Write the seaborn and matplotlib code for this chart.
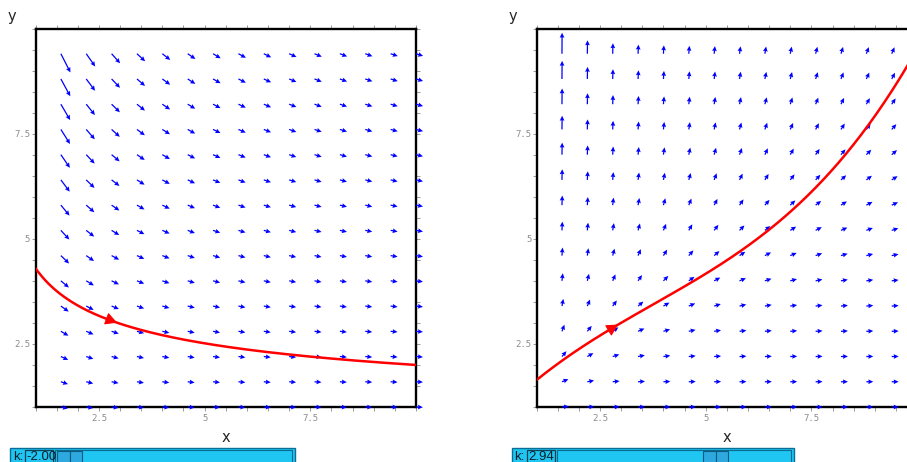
import numpy as np
import matplotlib
matplotlib.use("Agg")
import matplotlib.pyplot as plt
import seaborn as sns
from matplotlib.ticker import MultipleLocator, FixedLocator
from matplotlib.patches import Rectangle, FancyArrowPatch

# ---- slider parameter of the two direction fields ----
k_values = [-2.00, 2.94]
k_range = [-2.0, 5.0]

# slope model dy/dx = coef * y**y_pow / x**x_pow for each k
slope_coef = [-1.0 / 3.0, 0.25]
y_pow = [1.0, 3.4]
x_pow = [1.0, 2.4]

# arrow grid
x_grid = [1.6, 2.2, 2.8, 3.4, 4.0, 4.6, 5.2, 5.8, 6.4, 7.0, 7.6, 8.2, 8.8, 9.4, 10.0]
y_grid = [1.0, 1.6, 2.2, 2.8, 3.4, 4.0, 4.6, 5.2, 5.8, 6.4, 7.0, 7.6, 8.2, 8.8, 9.4]

# trajectories through the start point
traj_left_x = [1.0, 1.25, 1.5, 1.75, 2.0, 2.5, 3.0, 3.5, 4.0, 5.0, 6.0, 7.0, 8.0, 9.0, 10.0]
traj_left_y = [4.30, 3.99, 3.76, 3.57, 3.41, 3.17, 2.98, 2.83, 2.71, 2.51, 2.37, 2.25, 2.15, 2.07, 2.00]
traj_right_x = [1.0, 1.3, 1.6, 2.2, 2.9, 3.4, 4.0, 4.6, 5.2, 5.8, 6.4, 7.0, 7.5, 8.0, 8.5, 9.0, 9.4, 9.8, 10.0]
traj_right_y = [1.64, 1.88, 2.12, 2.51, 2.93, 3.20, 3.57, 3.92, 4.32, 4.69, 5.18, 5.67, 6.12, 6.58, 7.27, 7.91, 8.44, 9.18, 9.56]
traj_x = [traj_left_x, traj_right_x]
traj_y = [traj_left_y, traj_right_y]
traj_loglog = [True, False]
arrow_at_x = 2.93

x_ticks = [2.5, 5, 7.5]
y_ticks = [2.5, 5, 7.5]
x_lim = (1, 10)
y_lim = (1, 10)


def smooth_trajectory(xs, ys, loglog, n=300):
    """Smooth cubic through the sampled trajectory points."""
    xs = np.asarray(xs, float)
    ys = np.asarray(ys, float)
    xd = np.linspace(xs.min(), xs.max(), n)
    if loglog:
        coef = np.polyfit(np.log(xs), np.log(ys), 3)
        return xd, np.exp(np.polyval(coef, np.log(xd)))
    coef = np.polyfit(xs, ys, 3)
    return xd, np.polyval(coef, xd)


W, H = 907, 462
sns.set_theme(style="white")
plt.rcParams["font.family"] = ["DejaVu Sans"]

fig = plt.figure(figsize=(W / 100, H / 100), dpi=100)

panel_left_px = [35.5, 536.6]
panel_w_px = 380.5
top_px, bottom_px = 28.5, 407.0
sx = panel_w_px / (x_lim[1] - x_lim[0])
sy = (bottom_px - top_px) / (y_lim[1] - y_lim[0])

L_MIN, L_MAX = 6.9, 21.0  # arrow length range in pixels

for i, k in enumerate(k_values):
    x0 = panel_left_px[i]
    ax = fig.add_axes([x0 / W, (H - bottom_px) / H, panel_w_px / W, (bottom_px - top_px) / H])
    ax.set_xlim(*x_lim)
    ax.set_ylim(*y_lim)

    # direction field
    X, Y = np.meshgrid(np.array(x_grid), np.array(y_grid))
    F = slope_coef[i] * Y ** y_pow[i] / X ** x_pow[i]
    mag = np.sqrt(1.0 + F ** 2)
    span = mag.max() - mag.min()
    L = L_MIN + (L_MAX - L_MIN) * (mag - mag.min()) / (span if span > 0 else 1.0)
    U = (L / mag) / sx
    V = (F * L / mag) / sy
    q = ax.quiver(X, Y, U, V, angles="xy", scale_units="xy", scale=1,
                  units="dots", width=1.25, headwidth=3.8, headlength=4.0,
                  headaxislength=3.6, color="#0000ff", pivot="tail", zorder=3)
    q.set_clip_on(False)

    # trajectory
    cx, cy = smooth_trajectory(traj_x[i], traj_y[i], traj_loglog[i])
    sns.lineplot(x=cx, y=cy, sort=False, estimator=None,
                 color="#ff0000", lw=1.8, ax=ax, zorder=4)
    xa = arrow_at_x
    xb = xa - 0.4
    ya = float(np.interp(xa, cx, cy))
    yb = float(np.interp(xb, cx, cy))
    ax.add_patch(FancyArrowPatch((xb, yb), (xa, ya),
                                 arrowstyle="-|>,head_length=0.6,head_width=0.32",
                                 mutation_scale=12, color="#ff0000", lw=0.8,
                                 shrinkA=0, shrinkB=0, zorder=5))

    # frame and ticks
    for s in ax.spines.values():
        s.set_linewidth(1.7)
        s.set_color("black")
        s.set_zorder(2.5)
    ax.xaxis.set_major_locator(FixedLocator(x_ticks))
    ax.yaxis.set_major_locator(FixedLocator(y_ticks))
    ax.xaxis.set_minor_locator(MultipleLocator(0.5))
    ax.yaxis.set_minor_locator(MultipleLocator(0.5))
    ax.set_xticklabels([f"{t:g}" for t in x_ticks])
    ax.set_yticklabels([f"{t:g}" for t in y_ticks])
    ax.tick_params(which="both", direction="out", top=True, right=True,
                   bottom=True, left=True, length=3, width=0.6, color="#8c8c8c")
    ax.tick_params(axis="x", which="major", pad=2.0, labelsize=6.5, labelcolor="#8c8c8c")
    ax.tick_params(axis="y", which="major", pad=0.8, labelsize=6.5, labelcolor="#8c8c8c")
    for lab in ax.get_xticklabels() + ax.get_yticklabels():
        lab.set_family("DejaVu Sans Mono")
    ax.set_xlabel("")
    ax.set_ylabel("")
    ax.grid(False)

    # axis names
    fig.text((x0 + panel_w_px / 2) / W, 1 - 437 / H, "x", ha="center", va="center", fontsize=10.5)
    fig.text((x0 - 23.5) / W, 1 - 16 / H, "y", ha="center", va="center", fontsize=10.5)

# ---- slider bars ----
over = fig.add_axes([0, 0, 1, 1], zorder=10)
over.set_xlim(0, W)
over.set_ylim(H, 0)
over.axis("off")

bar_left = [10.0, 511.5]
bar_width = [285.0, 282.0]
CYAN = "#1fc6f2"
for i, k in enumerate(k_values):
    bx = bar_left[i]
    bw = bar_width[i]
    over.add_patch(Rectangle((bx, 447.5), bw, 18, fc=CYAN, ec="#0a6f96", lw=1.0))
    over.text(bx + 3.0, 457.0, "k:", ha="left", va="center", fontsize=9.5,
              family="Liberation Sans", color="#0b1e2a")
    ex = bx + 15.0
    over.add_patch(Rectangle((ex, 449.5), 28, 16, fc=CYAN, ec="#103f58", lw=0.9))
    over.text(ex + 1.5, 457.0, f"{k:.2f}", ha="left", va="center", fontsize=9.5,
              family="Liberation Sans", color="#0b1e2a")
    tx = ex + 30.0
    tw = bx + bw - 3 - tx
    over.add_patch(Rectangle((tx, 449.5), tw, 16, fc=CYAN, ec="#0b6a90", lw=0.8))
    thumb_w = 25.0
    frac = (k - k_range[0]) / (k_range[1] - k_range[0])
    th = tx + 2 + frac * (tw - 4 - thumb_w)
    over.add_patch(Rectangle((th, 451.0), thumb_w / 2, 13, fc="#2da9df", ec="#0d5a80", lw=0.8))
    over.add_patch(Rectangle((th + thumb_w / 2, 451.0), thumb_w / 2, 13, fc="#2da9df", ec="#0d5a80", lw=0.8))

fig.savefig("out.png", dpi=100)
